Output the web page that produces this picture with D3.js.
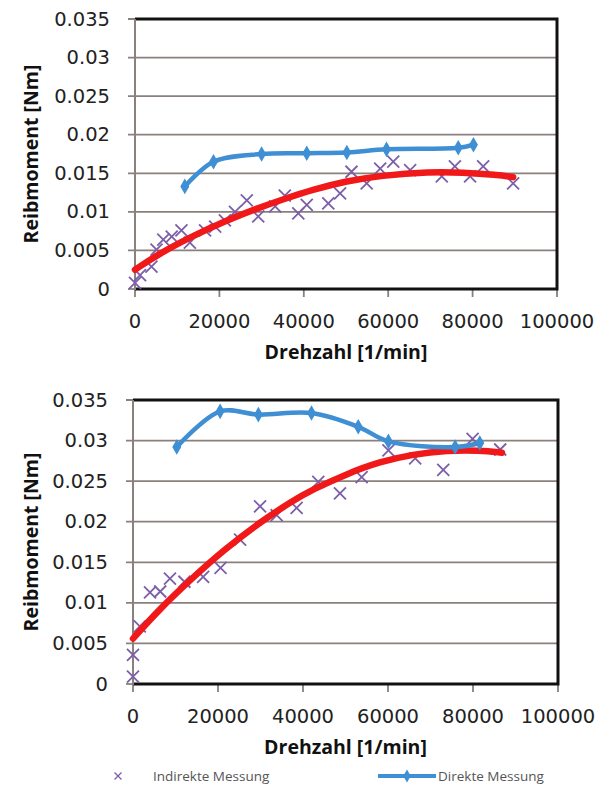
<!DOCTYPE html>
<html>
<head>
<meta charset="utf-8">
<script src="https://cdn.jsdelivr.net/npm/d3@7.9.0/dist/d3.min.js"></script>
<style>
  body { margin: 0; background: #fff; }
  svg { display: block; }
</style>
</head>
<body>
<svg id="chart" width="602" height="789"></svg>
<script>
// tick values (shared by both charts)
const xTicks = [0, 20000, 40000, 60000, 80000, 100000];
const yTicks = [0, 0.005, 0.01, 0.015, 0.02, 0.025, 0.03, 0.035];

// upper chart
const topIndirektX = [0, 1200, 3900, 5100, 6700, 8700, 11000, 13000, 16600, 19000, 21300, 23700, 26500, 29200, 33200, 35500, 38700, 40700, 45800, 48600, 51300, 54900, 58100, 61200, 65200, 72700, 75800, 79400, 82500, 89600];
const topIndirektY = [0.0008, 0.0018, 0.0029, 0.0051, 0.0064, 0.0068, 0.0076, 0.0060, 0.0076, 0.0081, 0.0089, 0.0100, 0.0115, 0.0094, 0.0107, 0.0121, 0.0098, 0.0109, 0.0111, 0.0124, 0.0152, 0.0137, 0.0156, 0.0165, 0.0154, 0.0146, 0.0159, 0.0146, 0.0159, 0.0137];
const topDirektX = [11800, 18600, 30000, 40700, 50200, 59600, 76600, 80200];
const topDirektY = [0.0133, 0.0165, 0.0175, 0.0176, 0.0177, 0.0181, 0.0183, 0.0187];
const topTrendX = [0, 5500, 13400, 21300, 29200, 35500, 42200, 50200, 58100, 69900, 77700, 85700, 89600];
const topTrendY = [0.0025, 0.0045, 0.0068, 0.0088, 0.0105, 0.0117, 0.0129, 0.0140, 0.0147, 0.0152, 0.0151, 0.0148, 0.0145];

// lower chart
const botIndirektX = [0, 0, 1600, 4000, 6400, 8700, 12100, 16500, 20600, 25200, 29900, 33800, 38500, 43600, 48700, 53800, 60100, 66400, 73000, 79900, 86400];
const botIndirektY = [0.0009, 0.0036, 0.0071, 0.0113, 0.0114, 0.0130, 0.0126, 0.0132, 0.0143, 0.0178, 0.0219, 0.0208, 0.0217, 0.0249, 0.0235, 0.0255, 0.0288, 0.0278, 0.0264, 0.0302, 0.0289];
const botDirektX = [10300, 20500, 29500, 42000, 53000, 60100, 75800, 81600];
const botDirektY = [0.0292, 0.0336, 0.0332, 0.0334, 0.0317, 0.0299, 0.0292, 0.0297];
const botTrendX = [0, 6000, 13800, 21600, 29500, 37300, 42400, 50300, 58100, 65900, 73800, 81600, 86800];
const botTrendY = [0.0056, 0.0091, 0.0130, 0.0166, 0.0198, 0.0225, 0.0240, 0.0259, 0.0274, 0.0283, 0.0288, 0.0288, 0.0285];

const xTitle = 'Drehzahl [1/min]';
const yTitle = 'Reibmoment [Nm]';
const legendLabels = ['Indirekte Messung', 'Direkte Messung'];

const purple = '#7c5fa8';
const blue = '#3e8fd4';
const red = '#f01818';
const gridColor = '#8a807c';

const svg = d3.select('#chart');
const zip = (xs, ys) => xs.map((x, i) => [x, ys[i]]);
const crossPath = 'M-6,-6L6,6M-6,6L6,-6';

function drawChart(frame, indirekt, direkt, trend) {
    const x = d3.scaleLinear().domain([0, 100000]).range([frame.left, frame.right]);
    const y = d3.scaleLinear().domain([0, 0.035]).range([frame.bottom, frame.top]);
    const g = svg.append('g');

    // horizontal grid + small outer ticks
    g.selectAll('.grid').data(yTicks.slice(1)).join('line')
        .attr('x1', frame.left - 7).attr('x2', frame.right)
        .attr('y1', d => y(d)).attr('y2', d => y(d))
        .attr('stroke', gridColor).attr('stroke-width', 1.8);

    // x ticks
    g.selectAll('.xt').data(xTicks).join('line')
        .attr('x1', d => x(d)).attr('x2', d => x(d))
        .attr('y1', frame.bottom).attr('y2', frame.bottom + 8)
        .attr('stroke', gridColor).attr('stroke-width', 1.8);

    // frame: black top/right/bottom, grey value axis on the left
    g.append('path')
        .attr('d', `M${frame.left},${frame.top}H${frame.right}V${frame.bottom}H${frame.left}`)
        .attr('fill', 'none').attr('stroke', '#111').attr('stroke-width', 3);
    g.append('line')
        .attr('x1', frame.left).attr('x2', frame.left)
        .attr('y1', frame.top).attr('y2', frame.bottom + 1)
        .attr('stroke', gridColor).attr('stroke-width', 2);
    g.append('line')
        .attr('x1', frame.left - 7).attr('x2', frame.left)
        .attr('y1', frame.bottom).attr('y2', frame.bottom)
        .attr('stroke', gridColor).attr('stroke-width', 1.8);

    // tick labels
    g.selectAll('.yl').data(yTicks).join('text')
        .attr('x', frame.left - 25).attr('y', d => y(d))
        .attr('text-anchor', 'end').attr('dominant-baseline', 'central')
        .attr('font-family', 'DejaVu Sans').attr('font-size', 19.5).attr('fill', '#222')
        .text(d => String(+d.toFixed(3)));
    g.selectAll('.xl').data(xTicks).join('text')
        .attr('x', d => x(d)).attr('y', frame.bottom + 32)
        .attr('text-anchor', 'middle').attr('dominant-baseline', 'central')
        .attr('font-family', 'DejaVu Sans').attr('font-size', 19.5).attr('fill', '#222')
        .text(d => d);

    // axis titles
    g.append('text')
        .attr('x', (frame.left + frame.right) / 2).attr('y', frame.bottom + 62)
        .attr('text-anchor', 'middle').attr('dominant-baseline', 'central')
        .attr('font-family', 'Open Sans').attr('font-weight', 'bold').attr('font-size', 19.5)
        .attr('fill', '#111').text(xTitle);
    g.append('text')
        .attr('transform', `translate(30,${(frame.top + frame.bottom) / 2}) rotate(-90)`)
        .attr('text-anchor', 'middle').attr('dominant-baseline', 'central')
        .attr('font-family', 'Open Sans').attr('font-weight', 'bold').attr('font-size', 19.5)
        .attr('fill', '#111').text(yTitle);

    // indirect measurement crosses
    g.selectAll('.cross').data(indirekt).join('path')
        .attr('transform', d => `translate(${x(d[0])},${y(d[1])})`)
        .attr('d', crossPath)
        .attr('fill', 'none').attr('stroke', purple).attr('stroke-width', 1.8);

    // trend line
    g.append('path').datum(trend)
        .attr('d', d3.line().x(d => x(d[0])).y(d => y(d[1])).curve(d3.curveBasis))
        .attr('fill', 'none').attr('stroke', red).attr('stroke-width', 6.5)
        .attr('stroke-linecap', 'round');

    // direct measurement
    g.append('path').datum(direkt)
        .attr('d', d3.line().x(d => x(d[0])).y(d => y(d[1])).curve(d3.curveCatmullRom))
        .attr('fill', 'none').attr('stroke', blue).attr('stroke-width', 4.5)
        .attr('stroke-linecap', 'round');
    g.selectAll('.dia').data(direkt).join('path')
        .attr('transform', d => `translate(${x(d[0])},${y(d[1])})`)
        .attr('d', d3.symbol(d3.symbolDiamond, 70))
        .attr('fill', blue);
}

drawChart({left: 135, right: 557, top: 19, bottom: 289},
    zip(topIndirektX, topIndirektY), zip(topDirektX, topDirektY), zip(topTrendX, topTrendY));
drawChart({left: 133, right: 558, top: 400, bottom: 684},
    zip(botIndirektX, botIndirektY), zip(botDirektX, botDirektY), zip(botTrendX, botTrendY));

// legend
const lg = svg.append('g');
lg.append('path').attr('transform', 'translate(118,776)')
    .attr('d', 'M-3.5,-3.5L3.5,3.5M-3.5,3.5L3.5,-3.5')
    .attr('fill', 'none').attr('stroke', purple).attr('stroke-width', 1.3);
lg.append('text').attr('x', 153).attr('y', 776)
    .attr('dominant-baseline', 'central')
    .attr('font-family', 'Open Sans').attr('font-size', 13.5).attr('fill', '#555')
    .text(legendLabels[0]);
lg.append('line').attr('x1', 378).attr('x2', 436).attr('y1', 776).attr('y2', 776)
    .attr('stroke', blue).attr('stroke-width', 4);
lg.append('path').attr('transform', 'translate(407,776)')
    .attr('d', d3.symbol(d3.symbolDiamond, 50)).attr('fill', blue);
lg.append('text').attr('x', 438).attr('y', 776)
    .attr('dominant-baseline', 'central')
    .attr('font-family', 'Open Sans').attr('font-size', 13.5).attr('fill', '#555')
    .text(legendLabels[1]);
</script>
</body>
</html>
